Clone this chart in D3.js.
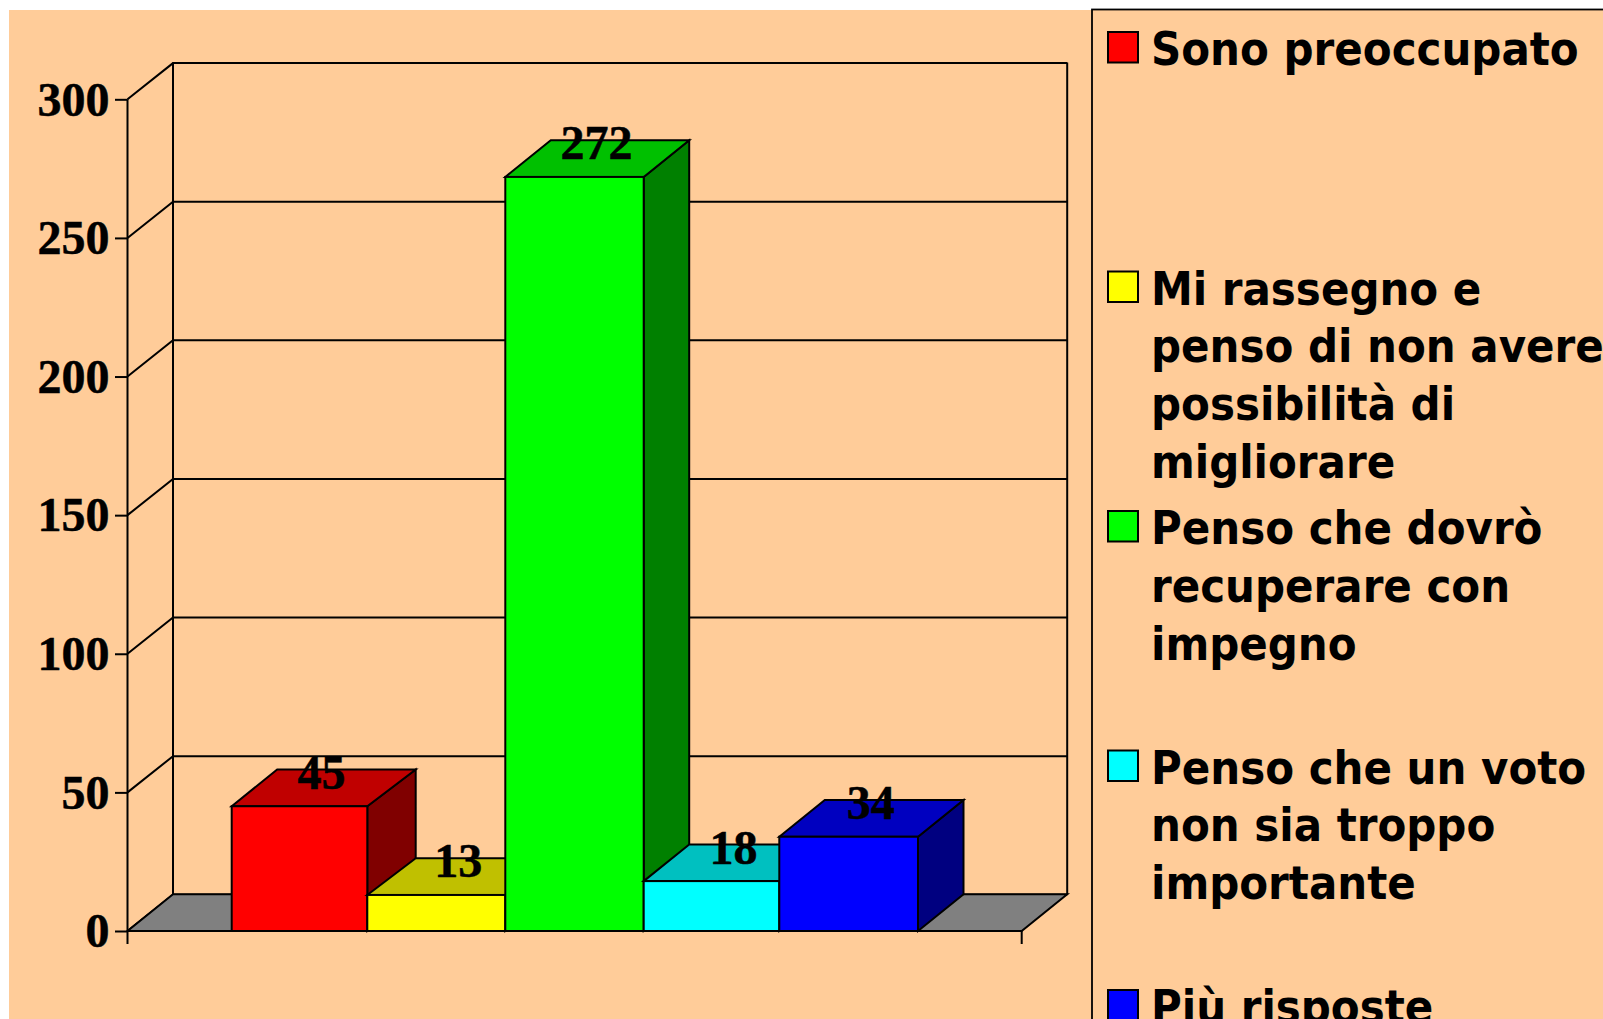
<!DOCTYPE html>
<html>
<head>
<meta charset="utf-8">
<script src="https://cdn.jsdelivr.net/npm/d3@7"></script>
<style>
html,body{margin:0;padding:0;background:#fff;overflow:hidden}
svg{display:block}
.val{font-family:"Liberation Serif",serif;font-weight:700;font-size:48px;fill:#000;stroke:#000;stroke-width:0.5px}
.leg{font-family:"DejaVu Sans",sans-serif;font-stretch:condensed;font-weight:700;font-size:46.7px;fill:#000}
</style>
</head>
<body>
<svg id="c" width="1603" height="1019"></svg>
<script>
const categories = ["Sono preoccupato","Mi rassegno e penso di non avere possibilità di migliorare","Penso che dovrò recuperare con impegno","Penso che un voto non sia troppo importante","Più risposte"];
const values = [45, 13, 272, 18, 34];
const yTicks = [0, 50, 100, 150, 200, 250, 300];
const legendLines = [
  ["Sono preoccupato"],
  ["Mi rassegno e","penso di non avere","possibilità di","migliorare"],
  ["Penso che dovrò","recuperare con","impegno"],
  ["Penso che un voto","non sia troppo","importante"],
  ["Più risposte"]
];
const frontColors = ["#ff0000","#ffff00","#00ff00","#00ffff","#0000ff"];
const topColors   = ["#c00000","#c0c000","#00c000","#00c0c0","#0000c0"];
const sideColors  = ["#800000","#808000","#008000","#008080","#000080"];

const W = 1603, H = 1019;
const plot = {left:127.5, right:1021.7, y0:931, y300:99.3, dx:45.5, dy:-36.7};
const lw = 2;
const svg = d3.select("#c");

// backgrounds
svg.append("rect").attr("x",9).attr("y",10).attr("width",W).attr("height",H).attr("fill","#ffcc99");
svg.append("rect").attr("x",1092).attr("y",9.5).attr("width",W).attr("height",H)
  .attr("fill","#ffcc99").attr("stroke","#000").attr("stroke-width",1.8);

const y = d3.scaleLinear().domain([0,300]).range([plot.y0, plot.y300]);
// column edges as rasterised in the reference (front and back of the 3D columns)
const barEdges  = [231.7, 367.3, 505.3, 643.7, 779.3, 918];
const backEdges = [277.2, 415.7, 550.8, 689.2, 824.8, 963.5];
const xLeft  = d3.scaleOrdinal().domain(categories).range(barEdges.slice(0,5));
const xRight = d3.scaleOrdinal().domain(categories).range(barEdges.slice(1));
const bLeft  = d3.scaleOrdinal().domain(categories).range(backEdges.slice(0,5));
const bRight = d3.scaleOrdinal().domain(categories).range(backEdges.slice(1));
const {dx, dy} = plot;
const line = d3.line();
const wall = svg.append("g").attr("fill","none").attr("stroke","#000").attr("stroke-width",lw);

// floor
svg.append("path").attr("fill","#808080").attr("stroke","#000").attr("stroke-width",lw)
  .attr("d", line([[plot.left,plot.y0],[plot.right,plot.y0],[plot.right+dx,plot.y0+dy],[plot.left+dx,plot.y0+dy]])+"Z");

// back gridlines and side-wall diagonals
wall.selectAll("path.grid").data(yTicks).join("path").attr("class","grid")
  .attr("d", t => line([[plot.left,y(t)],[plot.left+dx,y(t)+dy+0.5],[plot.right+dx,y(t)+dy+0.5]]));
wall.append("path").attr("d", line([[plot.left+dx,y(300)+dy],[plot.left+dx,y(0)+dy]]));
wall.append("path").attr("d", line([[plot.right+dx,y(300)+dy],[plot.right+dx,y(0)+dy]]));

// y axis
const axisG = svg.append("g").attr("transform",`translate(${plot.left},0)`)
  .call(d3.axisLeft(y).tickValues(yTicks).tickSize(12.5).tickPadding(5.5).tickSizeOuter(0));
axisG.select(".domain").remove();
axisG.selectAll("line").attr("stroke","#000").attr("stroke-width",lw);
axisG.selectAll("text").attr("class","val").attr("fill","#000").attr("dy","0.33em").style("font-size","48px");
svg.append("path").attr("stroke","#000").attr("stroke-width",lw).attr("fill","none")
  .attr("d", line([[plot.left,y(300)],[plot.left,y(0)+13]]));

// bars
const bars = svg.append("g").attr("stroke","#000").attr("stroke-width",lw).attr("stroke-linejoin","miter");
categories.forEach((c,i) => {
  const x0 = xLeft(c), x1 = xRight(c), b0 = bLeft(c), b1 = bRight(c), yt = y(values[i]), yb = y(0);
  bars.append("path").attr("fill",sideColors[i])
    .attr("d", line([[x1,yb],[b1,yb+dy],[b1,yt+dy],[x1,yt]])+"Z");
  bars.append("path").attr("fill",topColors[i])
    .attr("d", line([[x0,yt],[b0,yt+dy],[b1,yt+dy],[x1,yt]])+"Z");
  bars.append("rect").attr("fill",frontColors[i])
    .attr("x",x0).attr("y",yt).attr("width",x1-x0).attr("height",yb-yt);
});

// front baseline and end tick
svg.append("path").attr("stroke","#000").attr("stroke-width",lw).attr("fill","none")
  .attr("d", line([[plot.left,plot.y0],[plot.right,plot.y0],[plot.right,plot.y0+13]]));

// value labels
svg.append("g").selectAll("text").data(categories).join("text").attr("class","val")
  .attr("text-anchor","middle")
  .attr("x", c => (xLeft(c)+xRight(c))/2+dx/2-0.7)
  .attr("y", (c,i) => y(values[i])-17.5)
  .text((c,i) => values[i]);

// legend
const legY = d3.scalePoint().domain(categories).range([65,1023]);
const legend = svg.append("g");
categories.forEach((c,i) => {
  const b = legY(c);
  legend.append("rect").attr("x",1108).attr("y",b-33).attr("width",30).attr("height",30.5)
    .attr("fill",frontColors[i]).attr("stroke","#000").attr("stroke-width",2);
  legendLines[i].forEach((t,j) => {
    legend.append("text").attr("class","leg").attr("x",1151).attr("y",b+j*57.9).text(t);
  });
});
</script>
</body>
</html>
